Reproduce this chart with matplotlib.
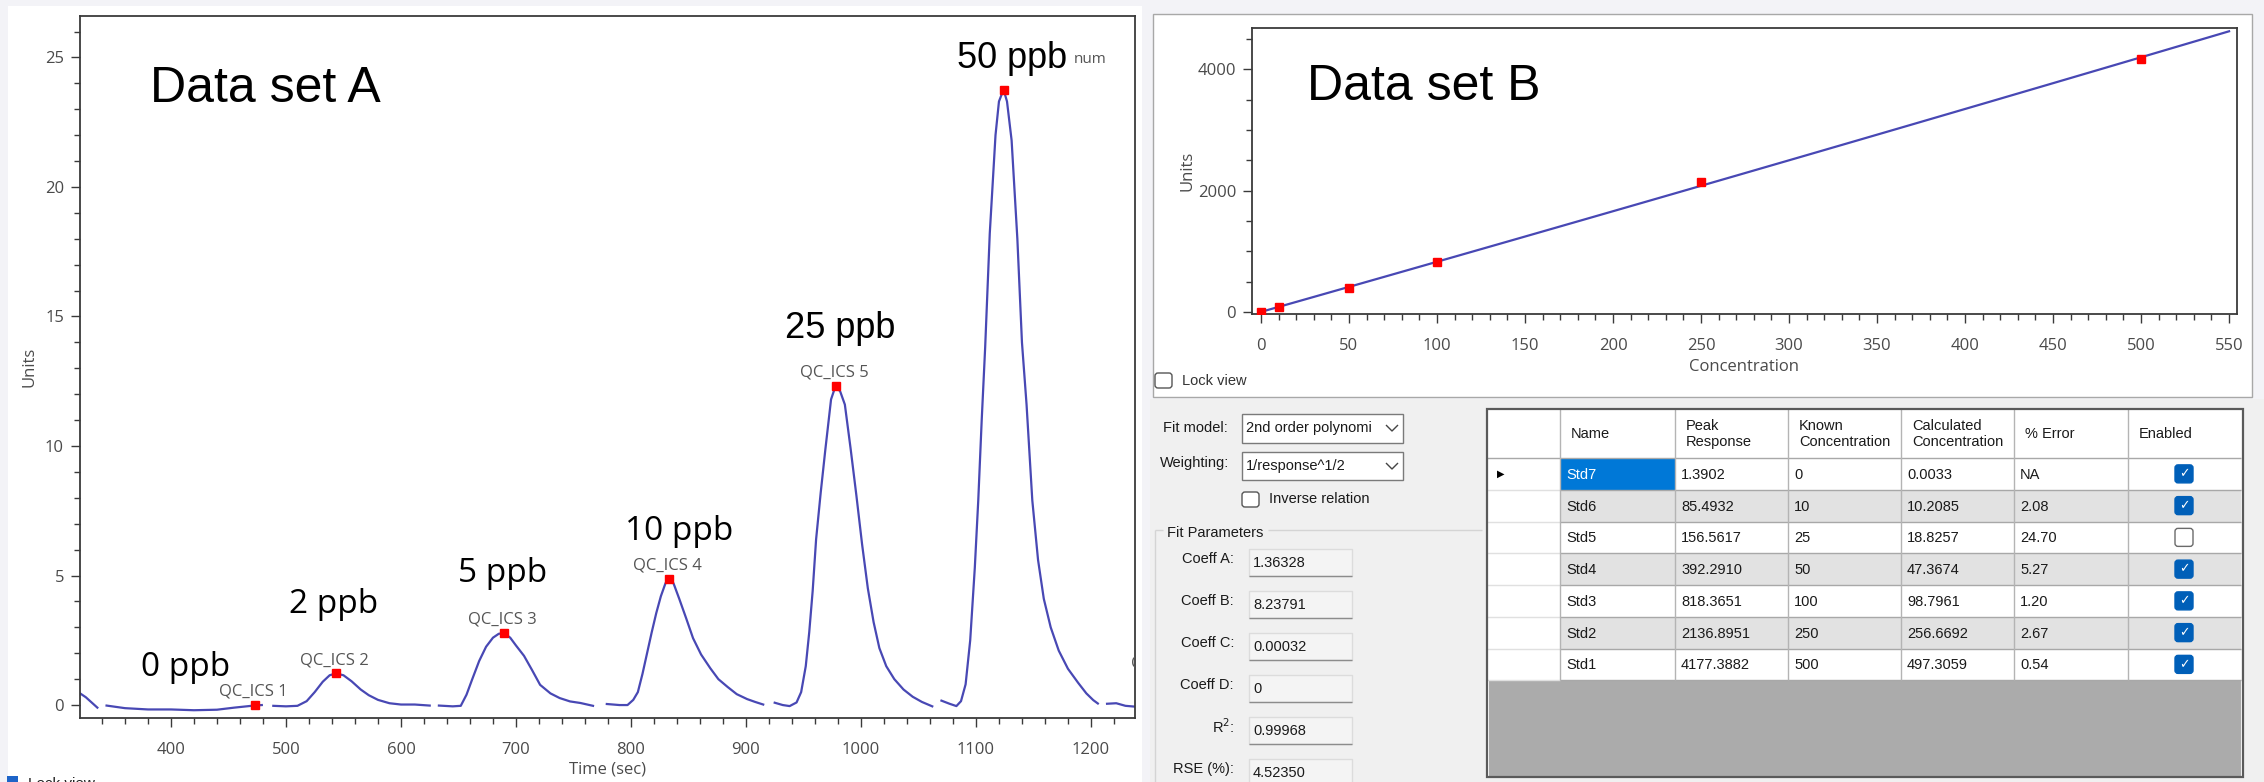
import numpy as np
import matplotlib
matplotlib.use("Agg")
import matplotlib.pyplot as plt
from matplotlib.patches import Rectangle, FancyBboxPatch
from matplotlib.ticker import MultipleLocator

# ---- data set A: chromatogram trace, one piece per injection window ----
tail_t = [321, 326, 331, 336]
tail_u = [0.45, 0.30, 0.10, -0.10]
ics1_t = [344, 360, 380, 400, 420, 440, 455, 470, 479]
ics1_u = [-0.02, -0.12, -0.17, -0.17, -0.20, -0.18, -0.10, -0.03, 0.0]
ics2_t = [489, 500, 510, 518, 525, 532, 538, 543.5, 550, 557, 565, 572, 580, 590, 600, 612, 625]
ics2_u = [-0.03, -0.05, -0.03, 0.15, 0.5, 0.9, 1.15, 1.22, 1.15, 0.92, 0.6, 0.38, 0.2, 0.07, 0.02, 0.02, -0.02]
ics3_t = [633, 645, 652, 657, 662, 668, 674, 680, 685, 689.6, 695, 700, 707, 714, 721, 730, 738, 747, 756, 767]
ics3_u = [-0.02, -0.05, -0.03, 0.4, 1.0, 1.7, 2.25, 2.6, 2.75, 2.78, 2.6, 2.3, 1.9, 1.35, 0.78, 0.45, 0.27, 0.14, 0.08, -0.03]
ics4_t = [779, 790, 797, 802, 806, 810, 814, 818, 822, 826, 830, 833, 837, 842, 848, 854, 861, 869, 876, 884, 892, 901, 908, 915]
ics4_u = [0.04, 0.0, 0.0, 0.2, 0.5, 1.2, 2.0, 2.8, 3.55, 4.2, 4.7, 4.87, 4.7, 4.1, 3.35, 2.58, 1.95, 1.42, 1.0, 0.7, 0.42, 0.23, 0.12, 0.02]
ics5_t = [925, 932, 938, 944, 948, 952, 955, 958, 961, 965, 969, 974, 978, 982, 986, 991, 996, 1001, 1006, 1011, 1016, 1022, 1029, 1037, 1045, 1053, 1062]
ics5_u = [0.09, 0.0, -0.04, 0.1, 0.5, 1.5, 2.8, 4.4, 6.4, 8.2, 9.85, 11.8, 12.33, 12.1, 11.6, 9.9, 8.1, 6.2, 4.5, 3.2, 2.2, 1.5, 1.0, 0.6, 0.32, 0.12, -0.05]
ics6_t = [1070, 1077, 1083, 1087, 1091, 1095, 1099, 1102, 1105, 1108, 1112, 1117, 1120, 1124, 1127, 1131, 1136, 1140, 1144, 1149, 1154, 1159, 1165, 1172, 1180, 1189, 1196, 1202, 1206]
ics6_u = [0.17, 0.05, -0.04, 0.15, 0.8, 2.5, 5.3, 7.9, 11.0, 13.8, 18.2, 22.0, 23.3, 23.76, 23.3, 21.8, 18.0, 14.0, 11.6, 7.9, 5.6, 4.1, 3.0, 2.1, 1.4, 0.85, 0.45, 0.19, 0.06]
ics7_t = [1214, 1222, 1230, 1238]
ics7_u = [0.05, 0.07, -0.03, -0.06]

peak_names = ["QC_ICS 1", "QC_ICS 2", "QC_ICS 3", "QC_ICS 4", "QC_ICS 5", ""]
peak_time = [473, 543.5, 689.6, 833, 978, 1124]
peak_units = [0.0, 1.22, 2.78, 4.87, 12.33, 23.76]
ppb_labels = ["0 ppb", "2 ppb", "5 ppb", "10 ppb", "25 ppb", "50 ppb"]

# ---- data set B: calibration ----
std_names = ["Std7", "Std6", "Std5", "Std4", "Std3", "Std2", "Std1"]
peak_response = [1.3902, 85.4932, 156.5617, 392.2910, 818.3651, 2136.8951, 4177.3882]
known_conc = [0, 10, 25, 50, 100, 250, 500]
calc_conc = [0.0033, 10.2085, 18.8257, 47.3674, 98.7961, 256.6692, 497.3059]
pct_error = ["NA", "2.08", "24.70", "5.27", "1.20", "2.67", "0.54"]
enabled = [True, True, False, True, True, True, True]

param_names = ["Coeff A:", "Coeff B:", "Coeff C:", "Coeff D:", "R$^2$:", "RSE (%):"]
param_values = ["1.36328", "8.23791", "0.00032", "0", "0.99968", "4.52350"]
coeffs = [1.36328, 8.23791, 0.00032, 0.0]

W, H = 2264, 782
BLUE = "#4848b4"
TXT = "#4a4a4a"
plt.rcParams["font.family"] = ["Open Sans", "DejaVu Sans"]

fig = plt.figure(figsize=(W / 100, H / 100), dpi=100, facecolor="#f3f3f7")

# pixel-space layer for the window chrome
ui = fig.add_axes([0, 0, 1, 1])
ui.set_xlim(0, W)
ui.set_ylim(H, 0)
ui.axis("off")
ui.set_zorder(0)


def box(x0, y0, x1, y1, fc, ec="none", lw=1.0, z=1):
    ui.add_patch(Rectangle((x0, y0), x1 - x0, y1 - y0, facecolor=fc,
                           edgecolor=ec, linewidth=lw, zorder=z))


def label(x, y, s, size=10.5, ha="left", color="#1a1a1a", z=3, **kw):
    ui.text(x, y, s, fontsize=size, ha=ha, va="center", color=color,
            family="Liberation Sans", zorder=z, **kw)


def line(xs, ys, color="#a0a0a0", lw=1.0, z=2):
    ui.plot(xs, ys, color=color, lw=lw, zorder=z, solid_capstyle="butt")


def px(x, y):
    return x / W, 1 - y / H


# panels
box(8, 6, 1142, H + 5, "white")
box(1150, 399, W, H, "#f0f0f0")
box(1153, 14, 2252, 397, "white", ec="#a8a8a8")

# ---------------- chart A ----------------
axA = fig.add_axes([80 / W, (H - 718) / H, (1135 - 80) / W, (718 - 16) / H])
axA.set_zorder(2)
for t, u in [(tail_t, tail_u), (ics1_t, ics1_u), (ics2_t, ics2_u), (ics3_t, ics3_u),
             (ics4_t, ics4_u), (ics5_t, ics5_u), (ics6_t, ics6_u), (ics7_t, ics7_u)]:
    axA.plot(t, u, color=BLUE, lw=1.6, solid_joinstyle="round")
axA.plot(peak_time, peak_units, "s", color="red", ms=6.3, zorder=3)
for name, t, u in zip(peak_names, peak_time, peak_units):
    if name:
        axA.annotate(name, (t, u), xytext=(-1, 9.5), textcoords="offset points",
                     ha="center", va="center", fontsize=12, color="#555555")
axA.text(1234.8, 1.6, "QC_ICS 7", ha="left", va="center", fontsize=12,
         color="#555555", clip_on=True)

ppb_pos = [(413, 1.12), (541, 3.55), (688, 4.75), (842, 6.37), (982, 14.17), (1131, 24.6)]
for i, (s, (x, y)) in enumerate(zip(ppb_labels, ppb_pos)):
    fam = "Open Sans" if i < 4 else "Liberation Sans"
    sz = 24 if i < 4 else 26
    axA.text(x, y, s, ha="center", va="baseline", fontsize=sz, color="black", family=fam)
axA.text(1185, 24.8, "num", ha="left", va="baseline", fontsize=11, color="#555555")

axA.set_xlim(320.9, 1238.3)
axA.set_ylim(-0.5, 26.6)
axA.xaxis.set_major_locator(MultipleLocator(100))
axA.xaxis.set_minor_locator(MultipleLocator(20))
axA.yaxis.set_major_locator(MultipleLocator(5))
axA.yaxis.set_minor_locator(MultipleLocator(1))
axA.set_xlabel("Time (sec)", fontsize=12, color=TXT, va="center")
axA.set_ylabel("Units", fontsize=12, color=TXT, va="center")
axA.xaxis.set_label_coords(0.5, -0.074)
axA.yaxis.set_label_coords(-0.048, 0.5)

# ---------------- chart B ----------------
axB = fig.add_axes([1252 / W, (H - 314) / H, (2237 - 1252) / W, (314 - 28) / H])
axB.set_zorder(2)
fit_x = np.linspace(0, 550, 60)
fit_y = sum(c * fit_x ** k for k, c in enumerate(coeffs))
axB.plot(fit_x, fit_y, color=BLUE, lw=1.6)
use = [i for i, e in enumerate(enabled) if e]
axB.plot([known_conc[i] for i in use], [peak_response[i] for i in use], "s",
         color="red", ms=6, zorder=3)
axB.set_xlim(-5.1, 554.5)
axB.set_ylim(-33, 4683)
axB.xaxis.set_major_locator(MultipleLocator(50))
axB.xaxis.set_minor_locator(MultipleLocator(10))
axB.yaxis.set_major_locator(MultipleLocator(2000))
axB.yaxis.set_minor_locator(MultipleLocator(500))
axB.set_xlabel("Concentration", fontsize=12, color=TXT, va="center")
axB.set_ylabel("Units", fontsize=12, color=TXT, va="center")
axB.xaxis.set_label_coords(0.5, -0.186)
axB.yaxis.set_label_coords(-0.065, 0.5)

for ax in (axA, axB):
    ax.set_facecolor("white")
    for sp in ax.spines.values():
        sp.set_color("#3a3a3a")
        sp.set_linewidth(1.3)
    ax.tick_params(which="major", length=6.5, width=1.0, color="#3a3a3a",
                   labelsize=12, labelcolor=TXT)
    ax.tick_params(which="minor", length=4.3, width=1.0, color="#3a3a3a")
    ax.tick_params(axis="x", which="major", pad=11)
    ax.tick_params(axis="y", which="major", pad=5)

fig.text(*px(150, 102), "Data set A", fontsize=36, family="Liberation Sans",
         ha="left", va="baseline", zorder=5)
fig.text(*px(1307, 100), "Data set B", fontsize=36, family="Liberation Sans",
         ha="left", va="baseline", zorder=5)

# lock view checkbox under chart B, and the cut one under chart A
ui.add_patch(FancyBboxPatch((1155, 373), 17, 15, boxstyle="round,pad=0,rounding_size=3",
                            facecolor="white", edgecolor="#555555", lw=1, zorder=3))
label(1182, 381, "Lock view", size=10.5, color="#333333")
box(7, 776, 18, 790, "#1e64c8", z=3)
ui.text(28, 777, "Lock view", fontsize=11, ha="left", va="top", color="#222222",
        family="Liberation Sans", zorder=3)

# ---------------- fit controls ----------------
def chevron(x, y):
    line([x - 6, x, x + 6], [y - 3, y + 3, y - 3], color="#444444", lw=1.0, z=4)

label(1163, 428, "Fit model:")
box(1242, 414, 1403, 443, "white", ec="#7a7a7a", z=2)
label(1246, 428, "2nd order polynomi")
chevron(1392, 428)
label(1160, 463, "Weighting:")
box(1242, 452, 1403, 480, "white", ec="#7a7a7a", z=2)
label(1246, 466, "1/response^1/2")
chevron(1392, 466)
ui.add_patch(FancyBboxPatch((1242, 492), 17, 15, boxstyle="round,pad=0,rounding_size=3",
                            facecolor="white", edgecolor="#555555", lw=1, zorder=3))
label(1269, 499, "Inverse relation")

line([1155, 1163], [530, 530], color="#d4d4d4")
line([1268, 1482], [530, 530], color="#d4d4d4")
line([1155, 1155], [530, H], color="#d4d4d4")
label(1167, 533, "Fit Parameters")

for k, (nm, val) in enumerate(zip(param_names, param_values)):
    yc = 562 + k * 42
    label(1234, yc - 3, nm, ha="right")
    box(1249, yc - 13, 1352, yc + 14, "#f4f4f4", ec="#dcdcdc", z=2)
    line([1249, 1352], [yc + 14, yc + 14], color="#8c8c8c", z=3)
    label(1253, yc + 1, val)

# ---------------- table ----------------
col_edges = [1487, 1560, 1675, 1788, 1901, 2014, 2128, 2241]
headers = ["Name", "Peak\nResponse", "Known\nConcentration", "Calculated\nConcentration",
           "% Error", "Enabled"]
top, head_bot, row_h = 409, 458, 31.75
n = len(std_names)
grid_bot = head_bot + n * row_h

box(1487, top, 2243, 777, "white", z=1)
box(1489, grid_bot, 2241, 776, "#ababab", z=2)
for j, h in enumerate(headers):
    label(col_edges[j + 1] + 11, 434, h, size=10.5, linespacing=1.15)

for i in range(n):
    y0 = head_bot + i * row_h
    yc = y0 + row_h / 2
    if i % 2 == 1:
        box(col_edges[1], y0, col_edges[-1], y0 + row_h, "#e2e2e2", z=1.5)
    cells = [std_names[i], f"{peak_response[i]:.4f}", str(known_conc[i]),
             f"{calc_conc[i]:.4f}", pct_error[i]]
    for j, s in enumerate(cells):
        col = "#1a1a1a"
        if i == 0 and j == 0:
            box(col_edges[1], y0, col_edges[2], y0 + row_h, "#0078d7", z=1.6)
            col = "white"
        label(col_edges[j + 1] + 6, yc + 1, s, size=10.5, color=col)
    cx = (col_edges[6] + col_edges[7]) / 2 - 0.5
    if enabled[i]:
        ui.add_patch(FancyBboxPatch((cx - 9, yc - 9), 18, 18,
                                    boxstyle="round,pad=0,rounding_size=3",
                                    facecolor="#005fb8", edgecolor="#005fb8", zorder=3))
        ui.text(cx, yc, "\u2713", fontsize=9, color="white", ha="center", va="center",
                family="DejaVu Sans", zorder=4)
    else:
        ui.add_patch(FancyBboxPatch((cx - 9, yc - 9), 18, 18,
                                    boxstyle="round,pad=0,rounding_size=3",
                                    facecolor="white", edgecolor="#6a6a6a", lw=1, zorder=3))
    line([col_edges[0], col_edges[1]], [y0 + row_h, y0 + row_h], color="#e0e0e0")
    line([col_edges[1], col_edges[-1]], [y0 + row_h, y0 + row_h], color="#a8a8a8")

ui.text(1501, 474, "\u25b6", fontsize=7, ha="center", va="center", color="black",
        family="DejaVu Sans", zorder=4)
line([col_edges[0], col_edges[-1]], [head_bot, head_bot], color="#a8a8a8")
for x in col_edges[1:-1]:
    line([x, x], [top, grid_bot], color="#b4b4b4")
ui.add_patch(Rectangle((1487, top), 756, 777 - top, facecolor="none",
                       edgecolor="#5a5a5a", linewidth=1.6, zorder=5))

fig.savefig("out.png", dpi=100, facecolor=fig.get_facecolor())
